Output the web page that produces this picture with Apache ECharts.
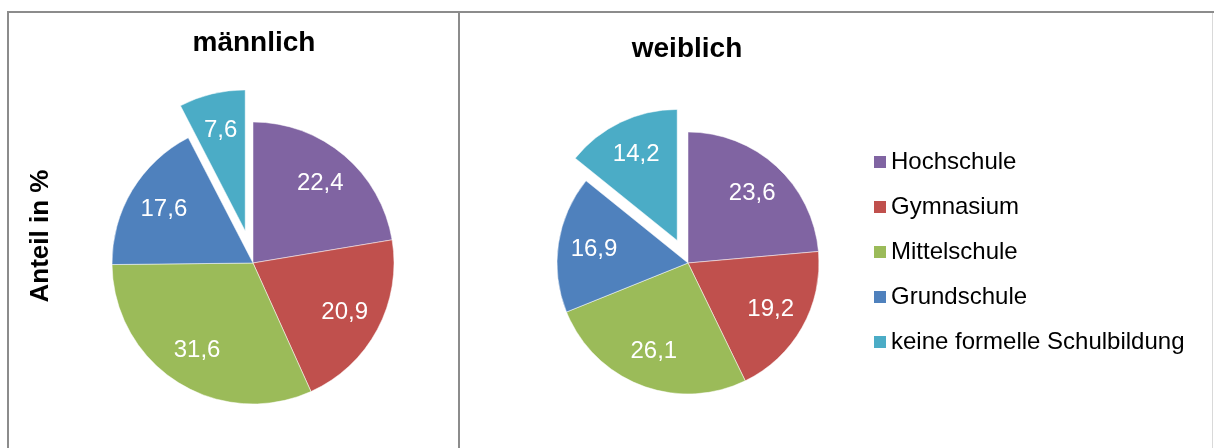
<!DOCTYPE html>
<html>
<head>
<meta charset="utf-8">
<title>Schulbildung</title>
<script src="https://cdn.jsdelivr.net/npm/echarts@6/dist/echarts.min.js"></script>
<style>
  html, body { margin: 0; padding: 0; background: #fff; }
  #chart { width: 1214px; height: 448px; }
</style>
</head>
<body>
<div id="chart"></div>
<script>
// 数据
var categories = ['Hochschule', 'Gymnasium', 'Mittelschule', 'Grundschule', 'keine formelle Schulbildung'];
var maleValues = [22.4, 20.9, 31.6, 17.6, 7.6];
var femaleValues = [23.6, 19.2, 26.1, 16.9, 14.2];
var titles = ['männlich', 'weiblich'];
var axisTitle = 'Anteil in %';
var colorList = ['#8064A2', '#C0504D', '#9BBB59', '#4F81BD', '#4BACC6'];
var explodeIndex = 4; // 突出的扇区

var font = '"Liberation Sans", Arial, sans-serif';

function putComma(v) {
  return String(v).replace('.', ',');
}

function getData(values, withColor) {
  return values.map(function (v, i) {
    var item = {
      name: categories[i],
      value: v,
      selected: i === explodeIndex
    };
    if (withColor) {
      item.itemStyle = { color: colorList[i] };
    }
    return item;
  });
}

// 饼图本体
function pieSeries(values, center, radius, offset) {
  return {
    type: 'pie',
    center: center,
    radius: [0, radius],
    startAngle: 90,
    clockwise: true,
    selectedMode: 'single',
    selectedOffset: offset,
    avoidLabelOverlap: false,
    label: { show: false },
    labelLine: { show: false },
    itemStyle: { borderColor: '#fff', borderWidth: 0.5 },
    emphasis: { disabled: true },
    select: { itemStyle: { borderColor: '#fff', borderWidth: 0.5 } },
    data: getData(values, true)
  };
}

// 透明的饼图, 只用来放数值标签 (标签在半径中点)
function labelSeries(values, center, labelDist, offset) {
  return {
    type: 'pie',
    center: center,
    radius: [0, 2 * (labelDist - 3)],
    startAngle: 90,
    clockwise: true,
    selectedMode: 'single',
    selectedOffset: offset,
    avoidLabelOverlap: false,
    silent: true,
    legendHoverLink: false,
    label: {
      show: true,
      position: 'inside',
      color: '#fff',
      fontSize: 24,
      fontFamily: font,
      formatter: function (p) {
        return putComma(p.value);
      }
    },
    labelLine: { show: false },
    itemStyle: { color: 'rgba(0,0,0,0)', borderWidth: 0 },
    emphasis: { disabled: true },
    select: { itemStyle: { color: 'rgba(0,0,0,0)', borderWidth: 0 } },
    data: getData(values, false)
  };
}

var lineStyle = { stroke: '#8c8c8c', lineWidth: 2 };

var option = {
  animation: false,
  legend: {
    orient: 'vertical',
    left: 869,
    top: 145,
    itemWidth: 12,
    itemHeight: 12,
    itemGap: 21,
    icon: 'rect',
    selectedMode: false,
    data: categories,
    itemStyle: { borderWidth: 0 },
    textStyle: {
      fontSize: 24,
      lineHeight: 24,
      fontFamily: font,
      color: '#000'
    }
  },
  graphic: [
    { type: 'line', shape: { x1: 8, y1: 12, x2: 1214, y2: 12 }, style: lineStyle },
    { type: 'line', shape: { x1: 8, y1: 11, x2: 8, y2: 448 }, style: lineStyle },
    { type: 'line', shape: { x1: 459, y1: 11, x2: 459, y2: 448 }, style: lineStyle },
    { type: 'line', shape: { x1: 1212.5, y1: 13, x2: 1212.5, y2: 448 }, style: { stroke: '#d9d9d9', lineWidth: 1 } },
    {
      type: 'text', x: 254, y: 43,
      style: { text: titles[0], fontSize: 28, fontWeight: 'bold', fontFamily: font, fill: '#000', align: 'center', verticalAlign: 'middle' }
    },
    {
      type: 'text', x: 687, y: 49,
      style: { text: titles[1], fontSize: 28, fontWeight: 'bold', fontFamily: font, fill: '#000', align: 'center', verticalAlign: 'middle' }
    },
    {
      type: 'text', x: 41, y: 236, rotation: Math.PI / 2,
      style: { text: axisTitle, fontSize: 26, fontWeight: 'bold', fontFamily: font, fill: '#000', align: 'center', verticalAlign: 'middle' }
    }
  ],
  series: [
    pieSeries(maleValues, [253, 263], 141, 33),
    pieSeries(femaleValues, [688, 263], 131, 25),
    labelSeries(maleValues, [253, 263], 104, 33),
    labelSeries(femaleValues, [688, 263], 95, 25)
  ]
};

var Chart = echarts.init(document.getElementById('chart'));
Chart.setOption(option);
</script>
</body>
</html>
